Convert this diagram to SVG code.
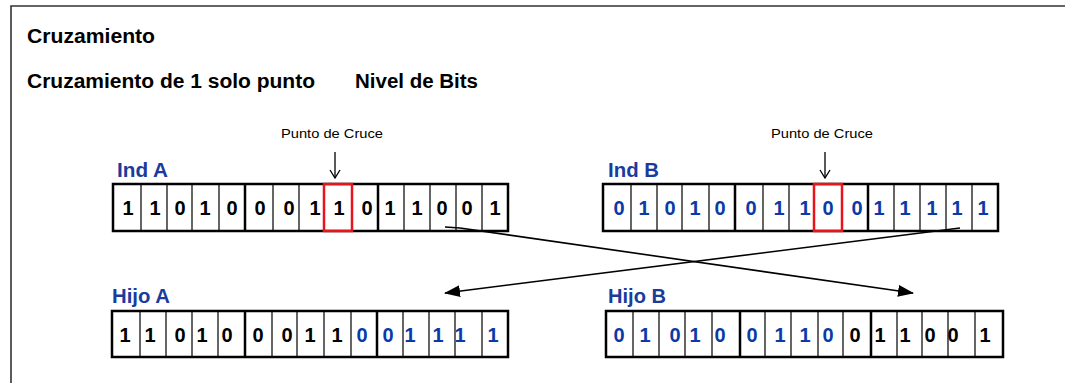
<svg xmlns="http://www.w3.org/2000/svg" width="1065" height="383" viewBox="0 0 1065 383">
<style>
.title{font-family:"Liberation Sans",Arial,sans-serif;font-weight:bold;font-size:20px;fill:#000}
.lbl{font-family:"Liberation Sans",Arial,sans-serif;font-weight:bold;font-size:20px;fill:#1a3c9c}
.pc{font-family:"Liberation Sans",Arial,sans-serif;font-size:12.5px;fill:#000}
.d{font-family:"Liberation Sans",Arial,sans-serif;font-weight:bold;font-size:20px;text-anchor:middle;fill:#000}
.b{fill:#0a3aa8}
.box{fill:#fff;stroke:#000;stroke-width:2.5}
.thin{stroke:#000;stroke-width:1.2}
.thick{stroke:#000;stroke-width:2.5}
.red{fill:none;stroke:#e8141c;stroke-width:2.5}
.conn{stroke:#000;stroke-width:1.6;fill:none}
</style>
<defs>
<marker id="ah" markerWidth="16" markerHeight="12" refX="15" refY="6" orient="auto" markerUnits="userSpaceOnUse">
<path d="M0,0 L16,6 L0,12 Z" fill="#000"/>
</marker>
<marker id="open" markerWidth="12" markerHeight="10" refX="6" refY="9" orient="0" markerUnits="userSpaceOnUse">
<path d="M1,1 L6,9 L11,1" fill="none" stroke="#000" stroke-width="1.3"/>
</marker>
</defs>
<rect x="0" y="0" width="1065" height="383" fill="#fff"/>
<path d="M11,383 V6 H1065" fill="none" stroke="#333" stroke-width="1.6"/>
<text class="title" x="27" y="43" textLength="128" lengthAdjust="spacingAndGlyphs">Cruzamiento</text>
<text class="title" x="27" y="88" textLength="288" lengthAdjust="spacingAndGlyphs">Cruzamiento de 1 solo punto</text>
<text class="title" x="355" y="88" textLength="123" lengthAdjust="spacingAndGlyphs">Nivel de Bits</text>

<g id="indA">
<text class="lbl" x="117" y="177" textLength="51" lengthAdjust="spacingAndGlyphs">Ind A</text>
<rect class="box" x="113" y="184" width="395" height="47"/>
<path class="thin" d="M141,184V231M167,184V231M192,184V231M219,184V231M273,184V231M299,184V231M324,184V231M352,184V231M404,184V231M430,184V231M456,184V231M482,184V231"/>
<path class="thick" d="M245,184V231M378,184V231"/>
<rect class="red" x="324" y="184" width="28" height="47"/>
<text class="d" y="215"><tspan x="128">1</tspan><tspan x="155">1</tspan><tspan x="180">0</tspan><tspan x="205">1</tspan><tspan x="232">0</tspan><tspan x="260">0</tspan><tspan x="289">0</tspan><tspan x="315">1</tspan><tspan x="339">1</tspan><tspan x="367">0</tspan><tspan x="390">1</tspan><tspan x="417">1</tspan><tspan x="442">0</tspan><tspan x="467">0</tspan><tspan x="495">1</tspan></text>
</g>

<g id="indB">
<text class="lbl" x="608" y="177" textLength="51" lengthAdjust="spacingAndGlyphs">Ind B</text>
<rect class="box" x="603" y="184" width="395" height="47"/>
<path class="thin" d="M631,184V231M657,184V231M682,184V231M709,184V231M763,184V231M789,184V231M814,184V231M842,184V231M894,184V231M920,184V231M946,184V231M972,184V231"/>
<path class="thick" d="M735,184V231M868,184V231"/>
<rect class="red" x="814" y="184" width="28" height="47"/>
<text class="d b" y="215"><tspan x="619">0</tspan><tspan x="644">1</tspan><tspan x="670">0</tspan><tspan x="695">1</tspan><tspan x="720">0</tspan><tspan x="751">0</tspan><tspan x="779">1</tspan><tspan x="805">1</tspan><tspan x="828">0</tspan><tspan x="857">0</tspan><tspan x="879">1</tspan><tspan x="905">1</tspan><tspan x="932">1</tspan><tspan x="957">1</tspan><tspan x="983">1</tspan></text>
</g>

<g id="puntoA">
<text class="pc" x="332" y="138" text-anchor="middle" textLength="102" lengthAdjust="spacingAndGlyphs">Punto de Cruce</text>
<path d="M335,152V178" stroke="#000" stroke-width="1.3" marker-end="url(#open)"/>
</g>
<g id="puntoB">
<text class="pc" x="822" y="138" text-anchor="middle" textLength="102" lengthAdjust="spacingAndGlyphs">Punto de Cruce</text>
<path d="M825,152V178" stroke="#000" stroke-width="1.3" marker-end="url(#open)"/>
</g>

<g id="hijoA">
<text class="lbl" x="112" y="303" textLength="58" lengthAdjust="spacingAndGlyphs">Hijo A</text>
<rect class="box" x="112" y="311" width="396" height="46"/>
<path class="thin" d="M140,311V357M166,311V357M192,311V357M218,311V357M272,311V357M297,311V357M324,311V357M351,311V357M403,311V357M429,311V357M455,311V357M482,311V357"/>
<path class="thick" d="M245,311V357M377,311V357"/>
<text class="d" y="342"><tspan x="125">1</tspan><tspan x="150">1</tspan><tspan x="180">0</tspan><tspan x="202">1</tspan><tspan x="227">0</tspan><tspan x="258">0</tspan><tspan x="287">0</tspan><tspan x="310">1</tspan><tspan x="337">1</tspan><tspan class="b" x="362">0</tspan><tspan class="b" x="388">0</tspan><tspan class="b" x="410">1</tspan><tspan class="b" x="438">1</tspan><tspan class="b" x="460">1</tspan><tspan class="b" x="493">1</tspan></text>
</g>

<g id="hijoB">
<text class="lbl" x="608" y="303" textLength="58" lengthAdjust="spacingAndGlyphs">Hijo B</text>
<rect class="box" x="606" y="311" width="397" height="46"/>
<path class="thin" d="M633,311V357M659,311V357M685,311V357M712,311V357M765,311V357M791,311V357M818,311V357M843,311V357M897,311V357M922,311V357M948,311V357M975,311V357"/>
<path class="thick" d="M740,311V357M871,311V357"/>
<text class="d b" y="342"><tspan x="619">0</tspan><tspan x="645">1</tspan><tspan x="675">0</tspan><tspan x="695">1</tspan><tspan x="720">0</tspan><tspan x="752">0</tspan><tspan x="780">1</tspan><tspan x="805">1</tspan><tspan x="828">0</tspan><tspan style="fill:#000" x="855">0</tspan><tspan style="fill:#000" x="880">1</tspan><tspan style="fill:#000" x="905">1</tspan><tspan style="fill:#000" x="930">0</tspan><tspan style="fill:#000" x="953">0</tspan><tspan style="fill:#000" x="985">1</tspan></text>
</g>

<g id="connectors">
<path class="conn" d="M445,227 L460,228 L913,293" marker-end="url(#ah)"/>
<path class="conn" d="M960,228 L445,293" marker-end="url(#ah)"/>
</g>
</svg>
